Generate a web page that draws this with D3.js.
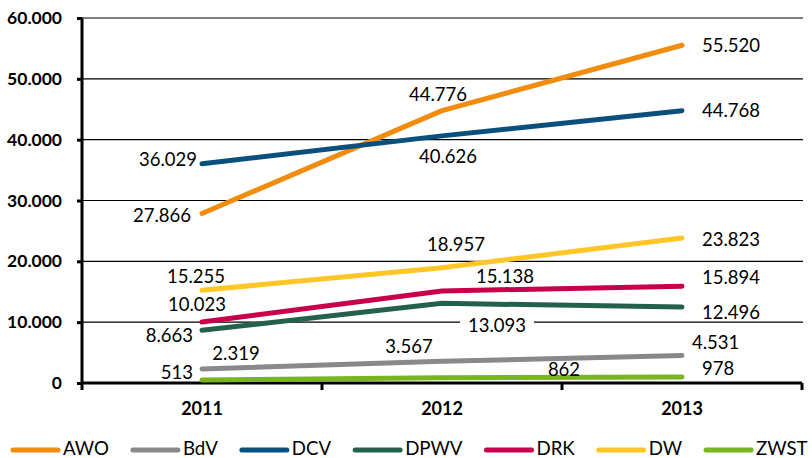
<!DOCTYPE html>
<meta charset="utf-8">
<style>
  body { margin: 0; background: #fff; }
  text { font-family: Lato, "Open Sans", sans-serif; }
</style>
<body></body>
<script src="https://cdn.jsdelivr.net/npm/d3@7"></script>
<script>

const years = ["2011", "2012", "2013"];
const names = ["AWO", "BdV", "DCV", "DPWV", "DRK", "DW", "ZWST"];
const colors = ["#f28c0c", "#898989", "#0b4f7d", "#24614c", "#c8004b", "#ffc627", "#79b51f"];

const awo  = [27866, 44776, 55520];
const bdv  = [2319, 3567, 4531];
const dcv  = [36029, 40626, 44768];
const dpwv = [8663, 13093, 12496];
const drk  = [10023, 15138, 15894];
const dw   = [15255, 18957, 23823];
const zwst = [513, 862, 978];

const yTicks = [0, 10000, 20000, 30000, 40000, 50000, 60000];

// label placement per point: [dx, dy, anchor] relative to the point (hand placed, like in the original)
const labelPos = [
  [[-11, 2, "end"], [-4, -16, "middle"], [20, 0, "start"]],
  [[34, -16, "middle"], [-33, -15, "middle"], [10, -13, "start"]],
  [[-5, -4, "end"], [6, 20, "middle"], [20, 0, "start"]],
  [[-9, 5, "end"], [55, 22, "middle"], [20, 5, "start"]],
  [[-5, -18, "middle"], [63, -15, "middle"], [20, -9, "start"]],
  [[-6, -14, "middle"], [14, -23, "middle"], [20, 1, "start"]],
  [[-9, -8, "end"], [122, -8, "middle"], [20, -9, "start"]]
];

const series = [awo, bdv, dcv, dpwv, drk, dw, zwst].map((values, i) => ({
  name: names[i], color: colors[i], values: values, pos: labelPos[i]
}));

const width = 812, height = 458;
const mLeft = 82, mRight = 802, mTop = 18, mBottom = 383;

const de = d3.formatLocale({decimal: ",", thousands: ".", grouping: [3], currency: ["", " €"]});
const fmt = de.format(",d");

const svg = d3.select("body").append("svg")
    .attr("width", width)
    .attr("height", height);

const x = d3.scaleBand().domain(years).range([mLeft, mRight]);
const y = d3.scaleLinear().domain([0, 60000]).range([mBottom, mTop]);
const cx = d => x(d) + x.bandwidth() / 2;

// gridlines
svg.append("g")
  .selectAll("line")
  .data(yTicks.filter(d => d > 0))
  .join("line")
    .attr("x1", mLeft).attr("x2", mRight + 1)
    .attr("y1", d => y(d)).attr("y2", d => y(d))
    .attr("stroke", "#000")
    .attr("stroke-width", 1.2);

// y axis
const yAxis = svg.append("g")
    .attr("transform", `translate(${mLeft},0)`)
    .call(d3.axisLeft(y).tickValues(yTicks).tickSize(5).tickPadding(15).tickFormat(fmt));
yAxis.select(".domain").attr("stroke-width", 3).attr("d", `M0,${mBottom}V${mTop}`);
yAxis.selectAll(".tick line").attr("stroke-width", 3);
yAxis.selectAll("text")
    .attr("font-size", 17.5)
    .attr("font-weight", "bold")
    .attr("font-family", "Lato")
    .attr("fill", "#000");

// x axis
const xAxis = svg.append("g")
    .attr("transform", `translate(0,${mBottom})`)
    .call(d3.axisBottom(x).tickSize(0).tickPadding(19));
xAxis.select(".domain").remove();
xAxis.selectAll("text")
    .attr("font-size", 18)
    .attr("font-weight", "bold")
    .attr("font-family", "Lato")
    .attr("fill", "#000");
svg.append("path")
    .attr("fill", "none")
    .attr("stroke", "#000")
    .attr("stroke-width", 3)
    .attr("d", `M${mLeft},${mBottom}H${mRight}`);
svg.append("g")
  .selectAll("line")
  .data(years.map(d => x(d)).concat([mRight]))
  .join("line")
    .attr("x1", d => d).attr("x2", d => d)
    .attr("y1", mBottom).attr("y2", mBottom + 7)
    .attr("stroke", "#000")
    .attr("stroke-width", 3);

// lines
const line = d3.line()
    .x((d, i) => cx(years[i]))
    .y(d => y(d));

svg.append("g")
  .selectAll("path")
  .data(series)
  .join("path")
    .attr("fill", "none")
    .attr("stroke", d => d.color)
    .attr("stroke-width", 5)
    .attr("stroke-linecap", "round")
    .attr("stroke-linejoin", "round")
    .attr("d", d => line(d.values));

// data labels
const labels = svg.append("g")
    .attr("font-size", 18.5)
    .attr("fill", "#000");

series.forEach(s => {
  s.values.forEach((v, i) => {
    const p = s.pos[i];
    const t = labels.append("text")
        .attr("x", cx(years[i]) + p[0])
        .attr("y", y(v) + p[1])
        .attr("dy", "0.36em")
        .attr("text-anchor", p[2])
        .text(fmt(v));
    // DPWV 2012 label sits on a gridline, give it a white box
    if (s.name === "DPWV" && i === 1) {
      const b = t.node().getBBox();
      labels.insert("rect", () => t.node())
          .attr("x", b.x - 8).attr("y", b.y)
          .attr("width", b.width + 16).attr("height", b.height)
          .attr("fill", "#fff");
    }
  });
});

// legend: fit the names into the same span as the original (x 11..808)
const legend = svg.append("g").attr("fill", "#000");
const sampleW = 48, textGap = 4, itemGap = 22, legL = 11, legR = 808;

const probe = legend.append("text").attr("font-size", 20);
let textW = 0;
names.forEach(n => { probe.text(n); textW += probe.node().getComputedTextLength(); });
probe.remove();
const room = (legR - legL) - names.length * (sampleW + textGap) - (names.length - 1) * itemGap;
const legendSize = Math.min(20, 20 * room / textW);
legend.attr("font-size", legendSize);

let lxPos = legL;
series.forEach(s => {
  legend.append("line")
      .attr("x1", lxPos + 2).attr("x2", lxPos + sampleW - 1)
      .attr("y1", 450).attr("y2", 450)
      .attr("stroke", s.color)
      .attr("stroke-width", 5)
      .attr("stroke-linecap", "round");
  const t = legend.append("text")
      .attr("x", lxPos + sampleW + textGap)
      .attr("y", 448)
      .attr("dy", "0.36em")
      .text(s.name);
  lxPos += sampleW + textGap + t.node().getComputedTextLength() + itemGap;
});

</script>
